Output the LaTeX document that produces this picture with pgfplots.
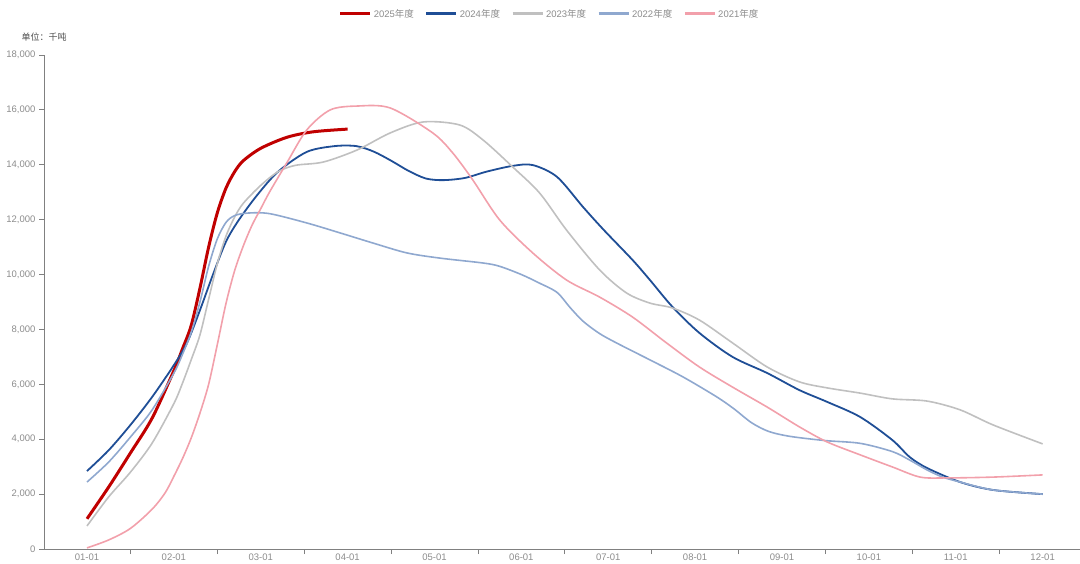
\documentclass[border=0pt]{standalone}
\usepackage{fontspec}
\setmainfont{Liberation Sans}
\newfontfamily\cjk{Noto Sans CJK SC}
\usepackage{pgfplots}
\pgfplotsset{compat=1.18}

\definecolor{c25}{HTML}{C00000}
\definecolor{c24}{HTML}{1F4E96}
\definecolor{c23}{HTML}{C0C0C0}
\definecolor{c22}{HTML}{8FA8CF}
\definecolor{c21}{HTML}{F2A0AB}
\definecolor{axgray}{HTML}{808080}
\definecolor{lblgray}{HTML}{8C8C8C}

\begin{document}
\begin{tikzpicture}
\begin{axis}[
    scale only axis,
    width=1036bp, height=494bp,
    xmin=-0.495, xmax=11.43,
    ymin=0, ymax=18000,
    clip mode=individual,
    axis x line*=bottom, axis y line*=left,
    axis line style={axgray, line width=0.8bp, -},
    tick align=outside,
    major tick length=5bp, minor tick length=5bp,
    tick style={axgray, line width=0.8bp},
    xtick={0,...,11},
    major x tick style={draw=none},
    xticklabels={01-01,02-01,03-01,04-01,05-01,06-01,07-01,08-01,09-01,10-01,11-01,12-01},
    minor xtick={-0.5,0.5,1.5,2.5,3.5,4.5,5.5,6.5,7.5,8.5,9.5,10.5},
    ytick={0,2000,...,18000},
    scaled y ticks=false,
    /pgf/number format/1000 sep={,},
    /pgf/number format/assume math mode=true,
    tick label style={font=\fontsize{9.5bp}{10bp}\selectfont, text=lblgray},
    xticklabel style={yshift=3.5bp},
    legend columns=5,
    legend style={draw=none, fill=none, at={(0.488,1.083)}, anchor=center,
        font=\fontsize{9.5bp}{10bp}\selectfont, text=lblgray,
        /tikz/every even column/.append style={column sep=9bp}},
    legend image code/.code={\draw[#1, line width=3bp] (0bp,0bp) -- (30bp,0bp);},
    every axis plot/.append style={smooth, no markers},
]
% 2025
\addplot[c25, line width=3bp] coordinates {
(0,1100)(0.25,2260)(0.5,3500)(0.75,4770)(1,6500)(1.1,7300)(1.2,8150)(1.3,9500)
(1.4,11000)(1.5,12250)(1.6,13150)(1.7,13750)(1.8,14150)(2,14600)(2.3,15000)
(2.6,15200)(3,15300)
};
\addlegendentry{2025{\cjk 年度}}
% 2024
\addplot[c24, line width=1.8bp] coordinates {
(0,2840)(0.25,3600)(0.5,4520)(0.75,5540)(1,6700)(1.15,7500)(1.3,8700)(1.45,10000)
(1.6,11200)(1.75,12000)(1.96,12900)(2.2,13750)(2.53,14470)(2.85,14680)(3.1,14680)
(3.3,14480)(3.5,14150)(3.7,13780)(3.9,13500)(4.1,13440)(4.35,13520)(4.6,13750)
(4.9,13960)(5.13,13990)(5.41,13560)(5.71,12460)(5.95,11620)(6.28,10530)(6.48,9800)
(6.74,8820)(7.05,7870)(7.43,7000)(7.83,6410)(8.2,5790)(8.52,5360)(8.9,4810)
(9.27,3970)(9.47,3350)(9.67,2950)(10.05,2440)(10.43,2150)(11,2000)
};
\addlegendentry{2024{\cjk 年度}}
% 2023
\addplot[c23, line width=1.6bp] coordinates {
(0,840)(0.25,1900)(0.5,2800)(0.75,3860)(1,5300)(1.1,6050)(1.2,6900)(1.3,7800)
(1.4,9100)(1.5,10400)(1.6,11400)(1.7,12100)(1.8,12600)(2,13250)(2.2,13750)
(2.4,13980)(2.72,14100)(3.11,14540)(3.49,15160)(3.87,15560)(4.29,15450)(4.56,14900)
(4.9,13920)(5.21,12970)(5.52,11620)(5.9,10170)(6.21,9330)(6.48,8960)(6.74,8780)
(7.05,8340)(7.43,7510)(7.83,6630)(8.2,6090)(8.52,5870)(8.9,5680)(9.27,5470)
(9.67,5390)(10.05,5070)(10.43,4520)(11,3830)
};
\addlegendentry{2023{\cjk 年度}}
% 2022
\addplot[c22, line width=1.6bp] coordinates {
(0,2440)(0.25,3170)(0.5,4080)(0.75,5070)(1,6410)(1.1,7100)(1.2,7900)(1.3,9000)
(1.4,10300)(1.5,11300)(1.6,11900)(1.7,12150)(1.85,12240)(2.1,12220)(2.53,11880)
(2.91,11520)(3.29,11150)(3.68,10790)(4.06,10600)(4.56,10420)(4.75,10300)(5,10000)
(5.2,9700)(5.41,9350)(5.56,8800)(5.71,8300)(5.9,7850)(6.1,7500)(6.48,6890)
(6.86,6270)(7.25,5540)(7.45,5100)(7.65,4600)(7.85,4280)(8.1,4100)(8.5,3950)
(8.9,3850)(9.27,3550)(9.47,3240)(9.67,2880)(9.85,2620)(10.05,2440)(10.43,2150)
(11,2000)
};
\addlegendentry{2022{\cjk 年度}}
% 2021
\addplot[c21, line width=1.6bp] coordinates {
(0,40)(0.25,330)(0.5,750)(0.75,1450)(0.9,2050)(1,2650)(1.1,3300)(1.2,4050)
(1.3,4950)(1.4,6000)(1.5,7450)(1.6,8950)(1.7,10150)(1.8,11050)(1.9,11800)
(2,12400)(2.1,13000)(2.3,14070)(2.53,15270)(2.8,16000)(3.11,16140)(3.49,16070)
(3.98,15160)(4.21,14430)(4.44,13450)(4.75,11990)(5.13,10790)(5.52,9800)(5.9,9180)
(6.28,8450)(6.67,7510)(7.05,6630)(7.43,5900)(7.83,5170)(8.2,4450)(8.52,3900)
(8.9,3430)(9.27,2990)(9.59,2620)(9.9,2590)(10.43,2620)(11,2700)
};
\addlegendentry{2021{\cjk 年度}}
\node[font=\cjk\fontsize{9bp}{10bp}\selectfont, text=black!70, anchor=center]
    at (rel axis cs:0,1) [yshift=18bp] {单位：千吨};
\end{axis}
\pgfresetboundingbox
\useasboundingbox (-44bp,-15bp) rectangle (1036bp,549bp);
\end{tikzpicture}
\end{document}
